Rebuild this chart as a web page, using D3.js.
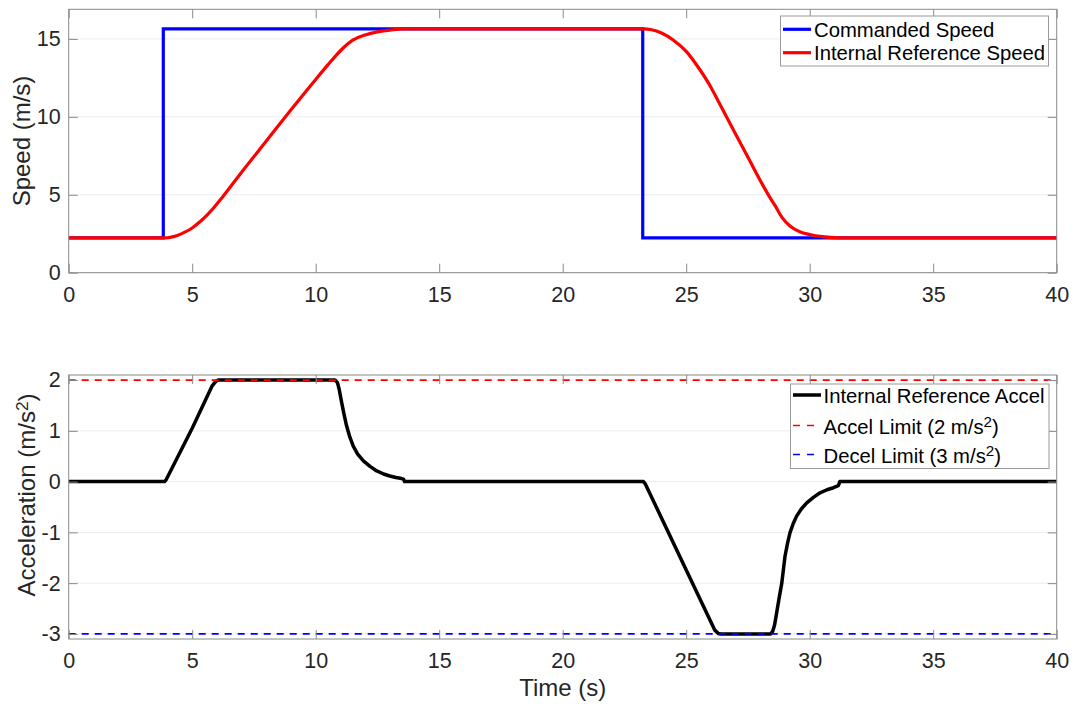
<!DOCTYPE html>
<html>
<head>
<meta charset="utf-8">
<script src="https://cdn.jsdelivr.net/npm/d3@7/dist/d3.min.js"></script>
<style>
  html, body { margin: 0; padding: 0; background: #fff; }
  svg { display: block; font-family: "Liberation Sans", Arial, Helvetica, sans-serif; }
</style>
</head>
<body>
<svg id="chart" width="1075" height="704"></svg>
<script>
// ---- Data ----
// Commanded speed (step profile), m/s
const cmdTime  = [0, 3.83, 23.24, 40];
const cmdSpeed = [2.235, 15.646, 2.235, 2.235];

// Internal reference speed, m/s
const refTime  = [0, 3.83, 4.1, 4.4, 4.7, 5.0, 5.3, 5.6, 5.9, 6.2, 7.0, 8.0, 9.0, 10.0, 10.5, 10.8, 11.1, 11.5, 12.0, 12.5, 13.0, 13.55,
                  23.25, 23.6, 24.0, 24.5, 25.0, 25.5, 26.0, 26.3, 26.7, 27.5, 28.4, 28.6, 28.9, 29.2, 29.6, 30.0, 30.5, 31.2, 40];
const refSpeed = [2.235, 2.235, 2.27, 2.39, 2.6, 2.87, 3.25, 3.7, 4.22, 4.8, 6.45, 8.45, 10.45, 12.4, 13.35, 13.9, 14.4, 14.92, 15.25, 15.45, 15.56, 15.646,
                  15.646, 15.59, 15.38, 14.9, 14.2, 13.15, 11.9, 11.0, 9.8, 7.4, 4.8, 4.3, 3.5, 3.0, 2.63, 2.45, 2.31, 2.235, 2.235];

// Internal reference acceleration, m/s^2
const accTime = [0, 3.88, 3.95, 5.0, 5.8, 5.95, 6.05, 10.78, 10.88, 10.95, 11.05, 11.15, 11.25, 11.38, 11.52, 11.7, 11.93, 12.2, 12.47, 12.75, 13.0, 13.25, 13.48, 13.55, 13.6,
                 23.27, 23.35, 26.15, 26.3, 26.4, 28.42, 28.5, 28.58, 28.66, 28.76, 28.87, 29.0, 29.1, 29.2, 29.33, 29.47, 29.66, 29.88, 30.15, 30.42, 30.7, 30.96, 31.16, 31.22, 40];
const accVal  = [0, 0, 0.04, 1.05, 1.88, 1.97, 2, 2, 1.95, 1.82, 1.56, 1.32, 1.1, 0.88, 0.7, 0.54, 0.41, 0.3, 0.21, 0.15, 0.11, 0.08, 0.06, 0.05, 0,
                 0, -0.05, -2.92, -2.99, -3, -3, -2.95, -2.82, -2.59, -2.3, -2.0, -1.47, -1.22, -1.01, -0.83, -0.68, -0.54, -0.42, -0.31, -0.22, -0.16, -0.12, -0.08, 0, 0];

const accelLimit = 2;
const decelLimit = -3;

// Axis ranges and ticks
const xDomain = [0, 40];
const xTicks = [0, 5, 10, 15, 20, 25, 30, 35, 40];
const speedDomain = [0, 16.9];
const speedTicks = [0, 5, 10, 15];
const accDomain = [-3.1, 2.1];
const accTicks = [-3, -2, -1, 0, 1, 2];

// ---- Layout ----
const svg = d3.select("#chart");
const left = 68.7, right = 1056.7;
const panels = {
  top:    { y0: 9.3,  y1: 272.7 },
  bottom: { y0: 375,  y1: 639 }
};
const tickFont = 21.5, labelFont = 24, legendFont = 20.3;
const axisColor = "#262626", boxColor = "#8a8a8a", gridColor = "#ebebeb";
const tickLen = 9;
const fmt = d => String(d);   // plain hyphen-minus for negatives

const x = d3.scaleLinear().domain(xDomain).range([left, right]);

function drawGrid(yScale, yTickVals) {
  svg.append("g").selectAll("line").data(yTickVals).join("line")
    .attr("x1", left).attr("x2", right)
    .attr("y1", d => yScale(d)).attr("y2", d => yScale(d))
    .attr("stroke", gridColor).attr("stroke-width", 1);
}

function drawFrame(yScale, yTickVals, p) {
  const g = svg.append("g");
  const ax = g.append("g").attr("transform", `translate(0,${p.y1})`)
    .call(d3.axisBottom(x).tickValues(xTicks).tickSize(-tickLen).tickFormat(fmt));
  ax.select(".domain").remove();
  ax.selectAll("line").attr("stroke", boxColor);
  ax.selectAll("text").attr("y", 29.3).attr("dy", null)
    .attr("fill", axisColor).style("font-size", tickFont + "px").style("font-family", "inherit");

  const axt = g.append("g").attr("transform", `translate(0,${p.y0})`)
    .call(d3.axisTop(x).tickValues(xTicks).tickSize(-tickLen).tickFormat(""));
  axt.select(".domain").remove();
  axt.selectAll("line").attr("stroke", boxColor);

  const ay = g.append("g").attr("transform", `translate(${left},0)`)
    .call(d3.axisLeft(yScale).tickValues(yTickVals).tickSize(-tickLen).tickPadding(8).tickFormat(fmt));
  ay.select(".domain").remove();
  ay.selectAll("line").attr("stroke", boxColor);
  ay.selectAll("text").attr("fill", axisColor).style("font-size", tickFont + "px").style("font-family", "inherit");

  const ayr = g.append("g").attr("transform", `translate(${right},0)`)
    .call(d3.axisRight(yScale).tickValues(yTickVals).tickSize(-tickLen).tickFormat(""));
  ayr.select(".domain").remove();
  ayr.selectAll("line").attr("stroke", boxColor);

  g.append("rect").attr("x", left).attr("y", p.y0)
    .attr("width", right - left).attr("height", p.y1 - p.y0)
    .attr("fill", "none").attr("stroke", boxColor).attr("stroke-width", 1);
}

// ---- Top panel: speed ----
const ySpeed = d3.scaleLinear().domain(speedDomain).range([panels.top.y1, panels.top.y0]);
drawGrid(ySpeed, speedTicks);

const cmdLine = d3.line().x((d, i) => x(cmdTime[i])).y((d, i) => ySpeed(cmdSpeed[i])).curve(d3.curveStepAfter);
svg.append("path").attr("d", cmdLine(cmdTime))
  .attr("fill", "none").attr("stroke", "#0000ff").attr("stroke-width", 3.2);

const refLine = d3.line().x((d, i) => x(refTime[i])).y((d, i) => ySpeed(refSpeed[i])).curve(d3.curveMonotoneX);
svg.append("path").attr("d", refLine(refTime))
  .attr("fill", "none").attr("stroke", "#ff0000").attr("stroke-width", 3.2);

drawFrame(ySpeed, speedTicks, panels.top);

svg.append("text")
  .attr("transform", `translate(30,${(panels.top.y0 + panels.top.y1) / 2}) rotate(-90)`)
  .attr("text-anchor", "middle").attr("fill", axisColor).style("font-size", labelFont + "px")
  .text("Speed (m/s)");

// legend (top)
{
  const g = svg.append("g");
  g.append("rect").attr("x", 780.5).attr("y", 16).attr("width", 268).attr("height", 50)
    .attr("fill", "#fff").attr("stroke", "#9a9a9a").attr("stroke-width", 1);
  const items = [
    { label: "Commanded Speed", color: "#0000ff" },
    { label: "Internal Reference Speed", color: "#ff0000" }
  ];
  items.forEach((it, i) => {
    const cy = 29.3 + i * 23.4;
    g.append("line").attr("x1", 783).attr("x2", 811).attr("y1", cy).attr("y2", cy)
      .attr("stroke", it.color).attr("stroke-width", 3.2);
    g.append("text").attr("x", 814).attr("y", cy + 7.3).attr("fill", "#000")
      .style("font-size", legendFont + "px").text(it.label);
  });
}

// ---- Bottom panel: acceleration ----
const yAcc = d3.scaleLinear().domain(accDomain).range([panels.bottom.y1, panels.bottom.y0]);
drawGrid(yAcc, accTicks);

const accLine = d3.line().x((d, i) => x(accTime[i])).y((d, i) => yAcc(accVal[i])).curve(d3.curveLinear);
svg.append("path").attr("d", accLine(accTime))
  .attr("fill", "none").attr("stroke", "#000").attr("stroke-width", 3.5).attr("stroke-linejoin", "round");

[[accelLimit, "#ff0000"], [decelLimit, "#0000ff"]].forEach(([v, c]) => {
  svg.append("line").attr("x1", x(xDomain[0])).attr("x2", x(xDomain[1]))
    .attr("y1", yAcc(v)).attr("y2", yAcc(v))
    .attr("stroke", c).attr("stroke-width", 1.6).attr("stroke-dasharray", "7,6");
});

drawFrame(yAcc, accTicks, panels.bottom);

{
  const t = svg.append("text")
    .attr("transform", `translate(35,495) rotate(-90)`)
    .attr("text-anchor", "middle").attr("fill", axisColor).style("font-size", labelFont + "px");
  t.append("tspan").text("Acceleration (m/s");
  t.append("tspan").attr("baseline-shift", "40%").style("font-size", (labelFont * 0.72) + "px").text("2");
  t.append("tspan").text(")");
}

svg.append("text")
  .attr("x", x(20)).attr("y", 695.5)
  .attr("text-anchor", "middle").attr("fill", axisColor).style("font-size", labelFont + "px")
  .text("Time (s)");

// legend (bottom)
{
  const g = svg.append("g");
  g.append("rect").attr("x", 790.5).attr("y", 384).attr("width", 258.5).attr("height", 84.5)
    .attr("fill", "#fff").attr("stroke", "#9a9a9a").attr("stroke-width", 1);
  const items = [
    { label: "Internal Reference Accel", color: "#000", dash: null, w: 3.5, sup: null },
    { label: "Accel Limit (2 m/s", color: "#ff0000", dash: "7,7", w: 1.6, sup: "2" },
    { label: "Decel Limit (3 m/s", color: "#0000ff", dash: "7,7", w: 1.6, sup: "2" }
  ];
  const rowY = [395, 425.5, 454.5];
  items.forEach((it, i) => {
    const cy = rowY[i];
    g.append("line").attr("x1", 793).attr("x2", 821).attr("y1", cy).attr("y2", cy)
      .attr("stroke", it.color).attr("stroke-width", it.w)
      .attr("stroke-dasharray", it.dash);
    const t = g.append("text").attr("x", 823.5).attr("y", cy + 8).attr("fill", "#000")
      .style("font-size", legendFont + "px");
    t.append("tspan").text(it.label);
    if (it.sup) {
      t.append("tspan").attr("baseline-shift", "45%").style("font-size", (legendFont * 0.75) + "px").text(it.sup);
      t.append("tspan").text(")");
    }
  });
}
</script>
</body>
</html>
